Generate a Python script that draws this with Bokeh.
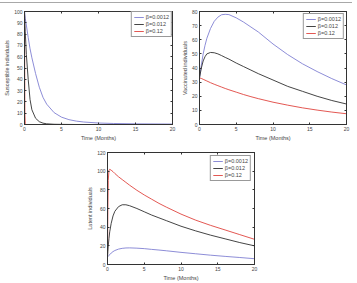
from bokeh.plotting import figure
from bokeh.models import (Range1d, FixedTicker, LinearAxis, CustomJSTickFormatter,
                          Legend, LegendItem, Spacer, Div)
from bokeh.layouts import column, row
from bokeh.embed import file_html
from bokeh.resources import INLINE

# ---------------- data ----------------
labels = ["β=0.0012", "β=0.012", "β=0.12"]
colors = ["#8080d2", "#303030", "#e0453f"]
x_ticks = [0, 5, 10, 15, 20]

t_s = [0, 0.05, 0.1, 0.25, 0.5, 0.75, 1, 1.5, 2, 2.5, 3, 4, 5, 6, 7, 8, 10, 12, 15, 20]
s_low = [100, 97, 94, 88, 77, 67, 59, 45, 33, 24, 18, 10.5, 6.5, 4.3, 3, 2.2, 1.3, 0.9, 0.6, 0.4]
s_mid = [100, 90, 82, 62, 40, 22, 13, 5.5, 2.5, 1.2, 0.6, 0.2, 0.1, 0.05, 0, 0, 0, 0, 0, 0]
s_high = [100, 10, 1, 0, 0, 0, 0, 0, 0, 0, 0, 0, 0, 0, 0, 0, 0, 0, 0, 0]
s_yticks = [0, 10, 20, 30, 40, 50, 60, 70, 80, 90, 100]

t_v = [0, 0.25, 0.5, 0.75, 1, 1.5, 2, 2.5, 3, 3.5, 4, 5, 6, 7, 8, 10, 12, 14, 16, 18, 20]
v_low = [33, 42, 50, 56, 61, 68, 73, 76, 77.7, 78, 77.8, 75.5, 72.5, 69, 65.5, 57, 49.5, 43, 37.5, 32.5, 28]
v_mid = [33, 40, 45, 48, 50, 51, 50.8, 50, 48.8, 47.5, 46.3, 43.5, 41, 38.5, 36, 31.5, 27, 23.5, 20, 17, 14.5]
v_high = [33, 32.6, 32, 31.4, 30.8, 29.6, 28.5, 27.5, 26.5, 25.5, 24.6, 22.9, 21.2, 19.7, 18.3, 15.8, 13.7, 11.8, 10.2, 8.8, 7.6]
v_yticks = [0, 10, 20, 30, 40, 50, 60, 70, 80]

t_l = [0, 0.05, 0.1, 0.2, 0.3, 0.5, 0.75, 1, 1.5, 2, 2.5, 3, 4, 5, 6, 7, 8, 10, 12, 14, 16, 18, 20]
l_low = [8, 8.5, 9, 9.8, 10.5, 12.3, 13.8, 15, 16.5, 17.3, 17.7, 17.8, 17.5, 17, 16.2, 15.5, 14.7, 13, 11.5, 10, 8.7, 7.5, 6.2]
l_mid = [8, 14, 20, 28, 35, 44, 52, 57, 62, 64, 64, 63, 60, 56.5, 53, 50, 47, 41, 36, 31.5, 27.5, 23.5, 20]
l_high = [8, 60, 90, 101, 102, 101, 99.5, 97.5, 94, 91, 88, 85, 79.5, 74.5, 70, 65.5, 61.5, 54, 47.5, 42, 37, 32, 27]
l_yticks = [0, 20, 40, 60, 80, 100, 120]

FONT = "Liberation Sans"
TXT = "#454545"


def panel(w, h, borders, t, series, ymax, yticks, ylabel, legend_margin):
    bl, br, bt, bb = borders
    p = figure(width=w, height=h, output_backend="svg", toolbar_location=None,
               x_range=Range1d(0, 20), y_range=Range1d(0, ymax),
               min_border_left=bl, min_border_right=br,
               min_border_top=bt, min_border_bottom=bb,
               x_axis_label="Time (Months)", y_axis_label=ylabel)
    p.xgrid.visible = False
    p.ygrid.visible = False
    p.outline_line_color = "#333333"
    p.outline_line_width = 1
    p.background_fill_color = "white"
    p.border_fill_color = "white"
    p.xaxis.ticker = FixedTicker(ticks=x_ticks)
    p.yaxis.ticker = FixedTicker(ticks=yticks)
    for ax in (p.xaxis[0], p.yaxis[0]):
        ax.major_tick_in = 2
        ax.major_tick_out = 0
        ax.minor_tick_line_color = None
        ax.axis_line_color = "#333333"
        ax.major_tick_line_color = "#333333"
        ax.major_label_text_font = FONT
        ax.major_label_text_font_size = "5px"
        ax.major_label_text_color = TXT
        ax.major_label_standoff = 2
        ax.axis_label_text_font = FONT
        ax.axis_label_text_font_size = "5.5px"
        ax.axis_label_text_font_style = "normal"
        ax.axis_label_text_color = TXT
        ax.axis_label_standoff = 1
    # ticks on top and right (box style)
    blank = CustomJSTickFormatter(code="return ''")
    for loc, tk in (("right", yticks), ("above", x_ticks)):
        ax = LinearAxis(ticker=FixedTicker(ticks=tk), formatter=blank,
                        major_tick_in=2, major_tick_out=0,
                        minor_tick_line_color=None, major_label_standoff=0,
                        axis_line_color="#333333", major_tick_line_color="#333333")
        p.add_layout(ax, loc)
    items = []
    for ys, c, lab in zip(series, colors, labels):
        r = p.line(t, ys, line_color=c, line_width=0.9)
        items.append(LegendItem(label=lab, renderers=[r]))
    leg = Legend(items=items, location="top_right")
    leg.label_text_font = FONT
    leg.label_text_font_size = "5.5px"
    leg.label_text_color = TXT
    leg.label_height = 6
    leg.glyph_height = 6
    leg.glyph_width = 10
    leg.label_standoff = 2
    leg.spacing = 1
    leg.padding = 2
    leg.margin = legend_margin
    leg.border_line_color = "#333333"
    leg.border_line_width = 1
    leg.background_fill_alpha = 1
    p.add_layout(leg, "center")
    return p


p1 = panel(178, 140, (24, 6, 8, 15), t_s, [s_low, s_mid, s_high], 100, s_yticks,
           "Susceptible individuals", 0)
p2 = panel(179, 140, (20, 11, 8, 15), t_v, [v_low, v_mid, v_high], 80, v_yticks,
           "Vaccinated individuals", 2)
p3 = panel(180, 140, (22, 10, 9, 14), t_l, [l_low, l_mid, l_high], 120, l_yticks,
           "Latent individuals", 3)

top_rule = Div(text="", width=352, height=2, margin=(0, 0, 0, 0),
               styles={"border-bottom": "1px solid #a8a8a8", "box-sizing": "content-box"})

layout = column(top_rule, row(p1, p2), row(Spacer(width=84, height=140), p3))

open("out.html", "w").write(file_html(layout, INLINE))
